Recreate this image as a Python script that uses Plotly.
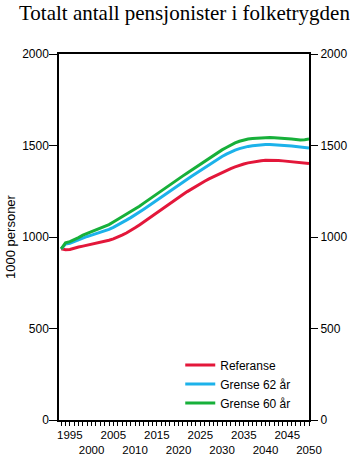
import plotly.graph_objects as go

years = list(range(1993, 2051))

referanse = [935, 930, 932, 940, 945, 950, 955, 960, 963, 968,
             975, 982, 990, 998, 1010, 1022, 1035, 1050, 1066, 1083,
             1100, 1117, 1135, 1152, 1168, 1184, 1200, 1216, 1232, 1248,
             1263, 1278, 1292, 1305, 1318, 1330, 1342, 1353, 1364, 1374,
             1383, 1392, 1399, 1405, 1410, 1414, 1417, 1419, 1420, 1420,
             1418, 1416, 1413, 1410, 1408, 1406, 1404, 1402]

grense_62 = [935, 962, 965, 975, 985, 995, 1003, 1010, 1017, 1024,
             1032, 1042, 1053, 1065, 1078, 1092, 1106, 1120, 1136, 1152,
             1168, 1185, 1202, 1219, 1236, 1252, 1268, 1284, 1300, 1316,
             1332, 1348, 1364, 1380, 1396, 1411, 1426, 1440, 1453, 1465,
             1475, 1483, 1490, 1495, 1499, 1502, 1504, 1506, 1506, 1505,
             1504, 1502, 1500, 1497, 1494, 1490, 1487, 1486]

grense_60 = [935, 968, 975, 985, 997, 1010, 1020, 1030, 1038, 1046,
             1056, 1068, 1082, 1096, 1110, 1124, 1138, 1152, 1168, 1185,
             1202, 1219, 1236, 1253, 1270, 1286, 1302, 1318, 1334, 1350,
             1366, 1383, 1400, 1416, 1432, 1447, 1462, 1476, 1489, 1503,
             1514, 1523, 1530, 1535, 1538, 1540, 1542, 1545, 1544, 1543,
             1542, 1540, 1538, 1536, 1533, 1530, 1532, 1535]

x_tick_years = list(range(1995, 2051, 5))
x_tick_text = [str(y) if y % 10 == 5 else "<br>" + str(y) for y in x_tick_years]
y_ticks = [0, 500, 1000, 1500, 2000]

series = [
    ("Referanse", referanse, "#E3173A"),
    ("Grense 62 år", grense_62, "#1CB2EA"),
    ("Grense 60 år", grense_60, "#17B03A"),
]

fig = go.Figure()
for name, vals, color in series:
    fig.add_trace(go.Scatter(x=years, y=vals, name=name, mode="lines",
                             line=dict(color=color, width=3)))

# empty trace so the right-hand value axis is rendered
fig.add_trace(go.Scatter(x=[None], y=[None], yaxis="y2", showlegend=False,
                         hoverinfo="skip", mode="lines"))

font = "Liberation Sans, Arial, sans-serif"

fig.update_layout(
    width=350, height=457,
    margin=dict(l=59, r=41, t=54, b=37),
    paper_bgcolor="white", plot_bgcolor="white",
    font=dict(family=font, size=12, color="black"),
    title=dict(text="Totalt antall pensjonister i folketrygden",
               font=dict(family="Liberation Serif, Times New Roman, serif", size=21, color="black"),
               x=0.527, xanchor="center", y=0.972, yanchor="middle", yref="container"),
    showlegend=True,
    legend=dict(x=0.485, y=0.19, xanchor="left", yanchor="top",
                bgcolor="rgba(0,0,0,0)", borderwidth=0,
                font=dict(family=font, size=12), tracegroupgap=0,
                itemwidth=30),
    xaxis=dict(range=[1992.5, 2050], tickmode="array", tickvals=x_tick_years,
               ticktext=x_tick_text, tickangle=0, automargin=False,
               ticks="outside", ticklen=4, tickwidth=1,
               tickcolor="black", showgrid=False, zeroline=False,
               showline=True, linecolor="black", linewidth=1.5, mirror=True,
               minor=dict(tickmode="linear", tick0=1993, dtick=1, ticks="outside",
                          ticklen=4, tickcolor="black", showgrid=False),
               ticklabelstandoff=-1,
               tickfont=dict(size=11.5)),
    yaxis=dict(range=[0, 2000], tickvals=y_ticks, ticks="outside", ticklen=8,
               tickcolor="black", showgrid=False, zeroline=False, automargin=False,
               showline=True, linecolor="black", linewidth=1.5, mirror=True,
               ticklabelstandoff=-2,
               title=dict(text="1000 personer", font=dict(size=13), standoff=4)),
    yaxis2=dict(range=[0, 2000], tickvals=y_ticks, ticks="outside", ticklen=8,
                tickcolor="black", overlaying="y", side="right", showgrid=False,
                zeroline=False, showline=False, automargin=False),
)

fig.write_html("out.html")
